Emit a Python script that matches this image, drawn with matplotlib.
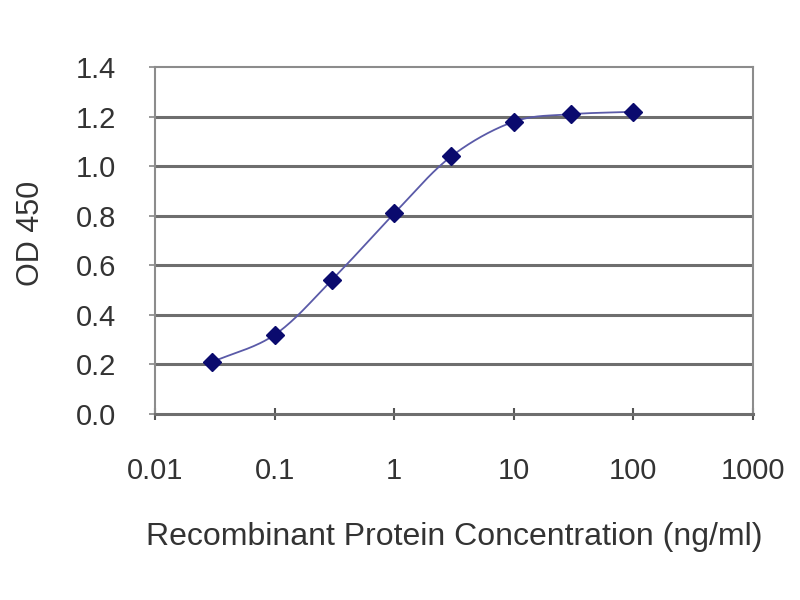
import numpy as np
import matplotlib
matplotlib.use("Agg")
import matplotlib.pyplot as plt

# data
conc = [0.03, 0.1, 0.3, 1, 3, 10, 30, 100]
od450 = [0.21, 0.32, 0.54, 0.81, 1.04, 1.18, 1.21, 1.22]
x_ticks = [0.01, 0.1, 1, 10, 100, 1000]
x_tick_labels = ["0.01", "0.1", "1", "10", "100", "1000"]
y_ticks = [0.0, 0.2, 0.4, 0.6, 0.8, 1.0, 1.2, 1.4]


def smooth_curve(xs, ys, n=30):
    # Catmull-Rom through the points, in log-x space (like Excel's smoothed line)
    lx = np.log10(xs)
    ys = np.asarray(ys, dtype=float)
    px = np.concatenate([[2 * lx[0] - lx[1]], lx, [2 * lx[-1] - lx[-2]]])
    py = np.concatenate([[2 * ys[0] - ys[1]], ys, [2 * ys[-1] - ys[-2]]])
    out_x, out_y = [], []
    t = np.linspace(0, 1, n)
    for i in range(1, len(px) - 2):
        for arr, out in ((px, out_x), (py, out_y)):
            p0, p1, p2, p3 = arr[i - 1], arr[i], arr[i + 1], arr[i + 2]
            seg = 0.5 * (2 * p1 + (-p0 + p2) * t
                         + (2 * p0 - 5 * p1 + 4 * p2 - p3) * t ** 2
                         + (-p0 + 3 * p1 - 3 * p2 + p3) * t ** 3)
            out.extend(seg)
    return 10 ** np.array(out_x), np.array(out_y)


plt.rcParams["font.family"] = ["Liberation Sans", "DejaVu Sans"]

fig = plt.figure(figsize=(8, 6), dpi=100)
ax = fig.add_axes([0.194, 0.31, 0.747, 0.578])

sx, sy = smooth_curve(conc, od450)
ax.plot(sx, sy, color="#5a5aa8", linewidth=1.3, zorder=3)
ax.plot(conc, od450, linestyle="none", marker="D", markersize=9,
        color="#0a0a6e", zorder=4)

ax.set_xscale("log")
ax.set_xlim(0.01, 1000)
ax.set_ylim(0, 1.4)
ax.set_xticks(x_ticks)
ax.set_xticklabels(x_tick_labels)
ax.minorticks_off()
ax.set_yticks(y_ticks)
ax.set_yticklabels(["{0:.1f}".format(v) for v in y_ticks])

for v in y_ticks[1:-1]:
    ax.axhline(v, color="#6e6e6e", linewidth=2.2, zorder=1)

for side in ax.spines.values():
    side.set_color("#8c8c8c")
    side.set_linewidth(1.5)
ax.spines["bottom"].set_color("#6e6e6e")
ax.spines["bottom"].set_linewidth(2.2)

ax.tick_params(axis="x", direction="inout", length=8, width=1.5,
               colors="#555555", labelsize=21, pad=27, labelcolor="#333333")
ax.tick_params(axis="y", direction="out", length=4, width=1.2,
               colors="#888888", labelsize=21, pad=24, labelcolor="#333333")

fig.text(31 / 800, 1 - 233 / 600, "OD 450", rotation=90, fontsize=22,
         color="#333333", ha="center", va="center")
fig.text(454 / 800, 1 - 537 / 600, "Recombinant Protein Concentration (ng/ml)",
         fontsize=23, color="#333333", ha="center", va="center")

fig.savefig("out.png", dpi=100)
